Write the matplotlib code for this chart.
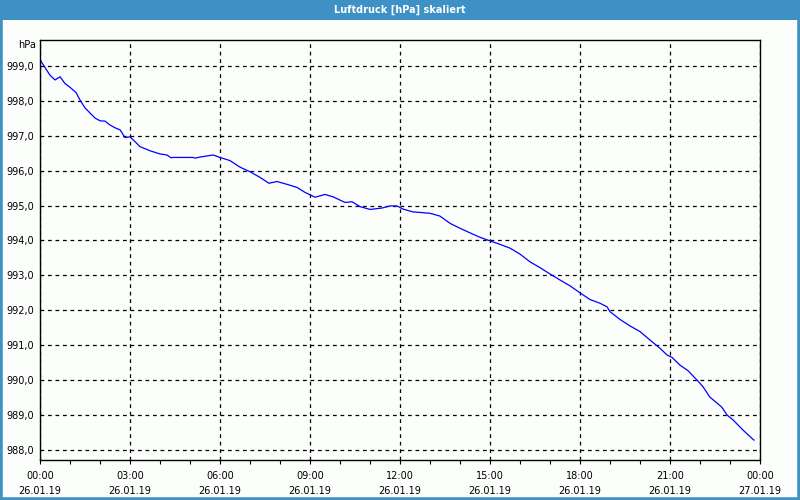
import matplotlib
matplotlib.use("Agg")
import matplotlib.pyplot as plt
import matplotlib.dates as mdates
from matplotlib.patches import Rectangle
from matplotlib.ticker import FuncFormatter, MultipleLocator
from datetime import datetime, timedelta

title = "Luftdruck [hPa] skaliert"
unit = "hPa"

hours = [0.0, 0.03, 0.33, 0.5, 0.67, 0.83, 1.0, 1.2, 1.33, 1.5, 1.67, 1.83, 2.0,
         2.17, 2.33, 2.5, 2.67, 2.83, 3.0, 3.17, 3.33, 3.67, 4.0, 4.23, 4.37, 4.43,
         5.1, 5.17, 5.33, 5.77, 6.0, 6.33, 6.67, 7.0, 7.33, 7.63, 7.9, 8.23, 8.57,
         8.83, 9.17, 9.5, 9.77, 10.17, 10.4, 10.67, 11.0, 11.4, 11.67, 11.9, 12.1,
         12.43, 13.0, 13.33, 13.67, 14.0, 14.33, 14.67, 15.0, 15.33, 15.67, 16.0,
         16.33, 16.67, 17.0, 17.33, 17.67, 18.0, 18.33, 18.67, 18.9, 19.0, 19.33,
         19.67, 20.0, 20.33, 20.67, 20.9, 21.07, 21.33, 21.6, 21.9, 22.1, 22.33,
         22.57, 22.73, 22.9, 23.1, 23.43, 23.73, 23.8]
values = [999.17, 999.14, 998.74, 998.6, 998.69, 998.5, 998.39, 998.24, 998.03,
          997.8, 997.65, 997.51, 997.43, 997.42, 997.31, 997.23, 997.17, 996.95,
          996.97, 996.83, 996.69, 996.57, 996.48, 996.45, 996.37, 996.38, 996.38,
          996.36, 996.39, 996.45, 996.38, 996.29, 996.1, 995.97, 995.81, 995.64,
          995.69, 995.61, 995.52, 995.38, 995.24, 995.32, 995.25, 995.09, 995.11,
          994.97, 994.89, 994.93, 994.99, 994.99, 994.9, 994.82, 994.78, 994.70,
          994.49, 994.35, 994.22, 994.09, 993.99, 993.89, 993.78, 993.61, 993.39,
          993.22, 993.04, 992.87, 992.70, 992.50, 992.31, 992.20, 992.10, 991.96,
          991.74, 991.55, 991.39, 991.15, 990.91, 990.72, 990.65, 990.43, 990.27,
          990.0, 989.81, 989.51, 989.34, 989.22, 989.0, 988.86, 988.57, 988.33,
          988.28]

start = datetime(2019, 1, 26, 0, 0)
end = datetime(2019, 1, 27, 0, 0)
times = [start + timedelta(hours=h) for h in hours]

blue = "#3d91c4"
bg = "#fcfefc"

fig = plt.figure(figsize=(8, 5), dpi=100, facecolor=bg)
# border and title bar
fig.patches.append(Rectangle((0, 0), 1, 1, transform=fig.transFigure,
                             facecolor="none", edgecolor=blue, linewidth=4, zorder=0))
fig.patches.append(Rectangle((0, 1 - 20 / 500), 1, 20 / 500, transform=fig.transFigure,
                             facecolor=blue, edgecolor="none", zorder=1))
fig.text(0.5, 1 - 10 / 500, title, color="white", ha="center", va="center",
         fontsize=7, fontweight="bold", family="DejaVu Sans")

ax = fig.add_axes([40 / 800, 40 / 500, 720 / 800, 420 / 500])
ax.set_facecolor(bg)
ax.plot(times, values, color="#0000ff", linewidth=0.9)

ax.set_xlim(start, end)
ax.set_ylim(987.71, 999.745)

ax.xaxis.set_major_locator(mdates.HourLocator(byhour=range(0, 24, 3)))
ax.xaxis.set_minor_locator(mdates.HourLocator())
ax.xaxis.set_major_formatter(mdates.DateFormatter("%H:%M\n%d.%m.%y"))
ax.yaxis.set_major_locator(MultipleLocator(1.0))
ax.yaxis.set_major_formatter(FuncFormatter(lambda v, p: f"{v:.1f}".replace(".", ",")))

ax.grid(True, which="major", color="black", linestyle=(0, (3, 3)), linewidth=0.9)
for s in ax.spines.values():
    s.set_linewidth(1.0)
    s.set_color("black")
ax.tick_params(axis="x", which="major", length=3, width=0.8, labelsize=7, pad=5)
ax.tick_params(axis="x", which="minor", length=3, width=0.8)
ax.tick_params(axis="y", which="major", length=0, labelsize=7, pad=4)
for lbl in ax.get_xticklabels():
    lbl.set_linespacing(1.6)

fig.text(36 / 800, 1 - 45 / 500, unit, ha="right", va="center", fontsize=7)

fig.savefig("out.png", dpi=100, facecolor=bg)
